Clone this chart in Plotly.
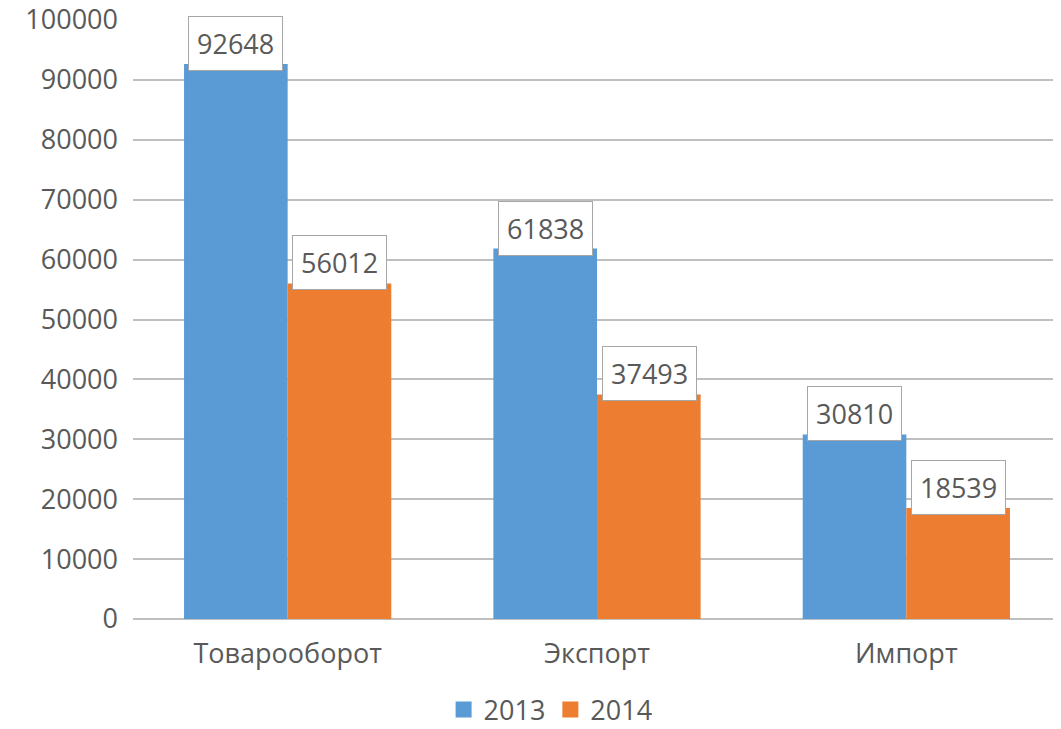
import plotly.graph_objects as go

categories = ["Товарооборот", "Экспорт", "Импорт"]
series_names = ["2013", "2014"]
values_2013 = [92648, 61838, 30810]
values_2014 = [56012, 37493, 18539]
y_ticks = [0, 10000, 20000, 30000, 40000, 50000, 60000, 70000, 80000, 90000, 100000]

colors = ["#5B9BD5", "#ED7D31"]
FONT = "Open Sans"
TXT = "#595959"
FS = 27

fig = go.Figure()
for name, vals, col in zip(series_names, [values_2013, values_2014], colors):
    fig.add_trace(go.Bar(x=categories, y=vals, name=name, showlegend=False,
                         marker=dict(color=col, line=dict(width=0))))
# legend entries with larger square swatches
for name, col in zip(series_names, colors):
    fig.add_trace(go.Scatter(x=[None], y=[None], mode="markers", name=name,
                             marker=dict(symbol="square", size=17, color=col)))

annotations = []
for vals, shift in [(values_2013, -52), (values_2014, 52)]:
    for c, v in zip(categories, vals):
        annotations.append(dict(
            x=c, y=v, xref="x", yref="y", text=str(v), showarrow=False,
            xshift=shift, yshift=-7, yanchor="bottom",
            font=dict(family=FONT, size=FS, color=TXT),
            bgcolor="white", bordercolor="#A6A6A6", borderwidth=1, borderpad=8,
        ))

fig.update_layout(
    width=1053, height=721,
    margin=dict(l=125, r=0, t=12, b=110, autoexpand=False),
    paper_bgcolor="white", plot_bgcolor="white",
    barmode="group", bargap=0.33, bargroupgap=0,
    font=dict(family=FONT, size=FS, color=TXT),
    annotations=annotations,
    legend=dict(orientation="h", x=0.45, xanchor="center", y=-0.152, yanchor="middle",
                font=dict(family=FONT, size=FS, color=TXT), traceorder="normal",
                itemwidth=30, tracegroupgap=0),
    xaxis=dict(showgrid=False, showline=False, ticks="", automargin=False,
               ticklabelstandoff=16, tickfont=dict(size=FS, color=TXT)),
    yaxis=dict(range=[0, 100000], tickvals=y_ticks, ticktext=[str(t) for t in y_ticks],
               showgrid=True, gridcolor="#BFBFBF", gridwidth=2, automargin=False,
               zeroline=True, zerolinecolor="#BFBFBF", zerolinewidth=2,
               showline=False, ticks="", ticklabelstandoff=14,
               ticklabeloverflow="allow",
               tickfont=dict(size=FS, color=TXT)),
)

fig.write_html("out.html")
